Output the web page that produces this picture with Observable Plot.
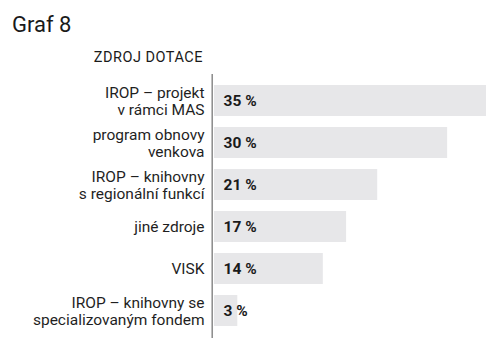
<!DOCTYPE html>
<html>
<head>
<meta charset="utf-8">
<script src="https://cdn.jsdelivr.net/npm/d3@7"></script>
<script src="https://cdn.jsdelivr.net/npm/@observablehq/plot@0.6"></script>
<style>
  html, body { margin: 0; padding: 0; background: #fff; }
  #wrap { position: relative; width: 500px; height: 357px; font-family: Roboto, "Noto Sans", sans-serif; color: #1a1a1a; }
  #title { height: 44px; font-size: 22px; line-height: 22px; padding: 14px 0 0 12px; box-sizing: border-box; }
  #sub { position: absolute; right: 297px; top: 50px; font-size: 14.5px; letter-spacing: 0.5px; line-height: 16px; }
  svg { display: block; }
</style>
</head>
<body>
<div id="wrap">
  <div id="title">Graf 8</div>
  <div id="sub">ZDROJ DOTACE</div>
  <div id="chart"></div>
</div>
<script>
const categories = [
  "IROP – projekt\nv rámci MAS",
  "program obnovy\nvenkova",
  "IROP – knihovny\ns regionální funkcí",
  "jiné zdroje",
  "VISK",
  "IROP – knihovny se\nspecializovaným fondem"
];
const values = [35, 30, 21, 17, 14, 3];
const valueLabels = ["35 %", "30 %", "21 %", "17 %", "14 %", "3 %"];

const data = categories.map((c, i) => ({cat: c, value: values[i], label: valueLabels[i]}));

const chart = Plot.plot({
  width: 500,
  height: 313,
  marginTop: 30,
  marginBottom: 19,
  marginLeft: 214,
  marginRight: 14,
  style: {fontFamily: "Roboto, 'Noto Sans', sans-serif", background: "transparent"},
  x: {domain: [0, 35], axis: null},
  y: {domain: categories, axis: null, paddingInner: 0.26, paddingOuter: 0.25},
  marks: [
    Plot.barX(data, {x: "value", y: "cat", fill: "#e7e7e9"}),
    Plot.ruleX([0], {stroke: "#8a8a8a", strokeWidth: 1.5, dx: -2.3}),
    Plot.text(data, {x: 0, y: "cat", text: "cat", textAnchor: "end", dx: -10, fontSize: 15.5, lineHeight: 1.1, fill: "#1f1f1f", letterSpacing: "0.35px"}),
    Plot.text(data, {x: 0, y: "cat", text: "label", textAnchor: "start", dx: 9, fontSize: 15.5, fontWeight: "bold", fill: "#1a1a1a", letterSpacing: "-0.1px"})
  ]
});
document.getElementById("chart").appendChild(chart);
</script>
</body>
</html>
